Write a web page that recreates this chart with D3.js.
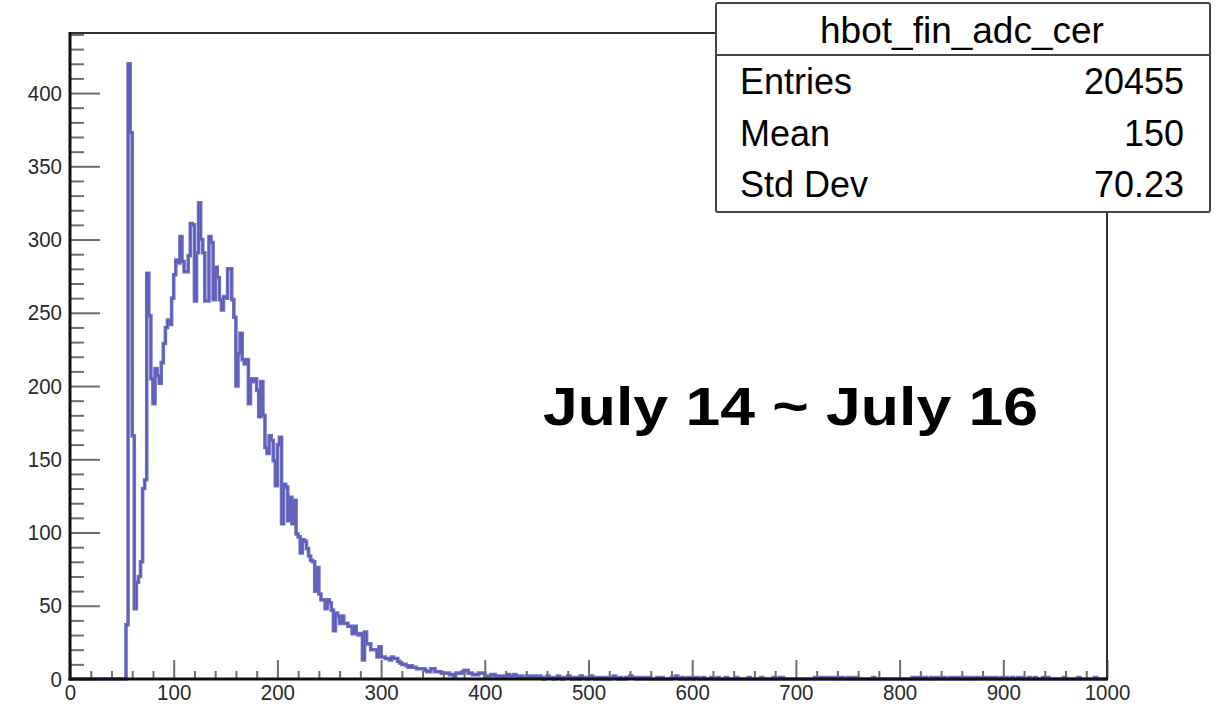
<!DOCTYPE html>
<html>
<head>
<meta charset="utf-8">
<script src="https://cdn.jsdelivr.net/npm/d3@7"></script>
<style>
body { margin: 0; background: #fff; }
text { font-family: "Liberation Sans", Arial, sans-serif; }
</style>
</head>
<body>
<svg id="chart" width="1217" height="708"></svg>
<script>
// bin contents, 2 ADC units per bin
var binWidth = 2;
var firstBin = 54;
var counts = [
	37, 420, 373, 166, 48, 66, 70, 80, 130, 136,
	277, 248, 205, 188, 212, 207, 202, 216, 229, 240,
	245, 242, 260, 276, 286, 284, 302, 285, 278, 278,
	289, 311, 310, 258, 291, 325, 300, 291, 258, 258,
	302, 298, 259, 281, 274, 259, 252, 261, 260, 280,
	280, 259, 247, 200, 222, 236, 218, 215, 218, 188,
	205, 203, 205, 197, 179, 203, 180, 158, 154, 166,
	163, 149, 132, 160, 165, 106, 133, 131, 108, 124,
	106, 122, 99, 97, 86, 95, 94, 89, 84, 81,
	80, 60, 76, 58, 54, 54, 48, 54, 52, 47,
	33, 45, 43, 38, 43, 38, 38, 36,
	36, 31, 36, 31, 30, 31, 13, 32, 24, 24,
	20, 20, 20, 15, 22, 15, 15, 14, 14, 13,
	15, 14, 14, 12, 11, 10, 10, 9, 8, 9,
	8, 8, 7, 7, 7, 7, 6, 5, 5, 7,
	7, 5, 5, 5, 4, 4, 4, 4, 3, 3,
	2, 4, 4, 4, 5, 6, 6, 4, 4, 3,
	3, 3, 4, 4, 4, 2, 2, 2, 3, 3,
	2, 2, 2, 2, 1, 2, 3, 2, 2, 3,
	2, 1, 2, 1, 1, 2, 1, 2, 1, 2
];
var tailStart = 450;
var tailCounts = [
	1,2,1,0,1,2,1,1,0,1,2,1,0,1,1,2,1,0,1,1,0,2,1,1,0,
	1,2,1,0,1,1,0,1,1,0,0,1,2,1,0,1,0,0,1,1,2,1,1,0,1,
	0,1,1,0,1,0,0,0,1,0,1,0,0,0,0,1,1,2,1,0,1,0,0,1,1,
	0,1,1,0,0,1,0,0,0,1,0,0,1,0,0,0,1,0,0,0,0,1,0,0,0,
	0,0,1,0,0,0,0,0,1,0,0,0,0,0,1,0,0,1,1,0,0,0,0,0,0,
	0,0,0,0,0,0,0,0,0,1,0,1,1,0,1,0,1,1,0,1,0,1,1,0,0,
	1,0,1,0,1,0,0,0,0,0,0,0,1,0,0,0,0,0,0,0,0,0,0,0,0,
	0,0,0,0,0,0,1,0,1,1,0,1,1,0,0,1,0,1,1,0,0,1,0,0,1,
	1,0,1,1,0,1,1,0,1,0,1,0,1,1,0,1,1,0,1,0,1,1,0,0,1,
	0,1,0,0,1,0,0,1,1,0,0,0,1,0,0,1,0,0,0,1,0,1,0,0,0,
	0,0,0,0,1,0,0,0,0,0,0,1,0,0,0,0,0,0,0,1,0,0,0,0,0
];
var xTicks = [0, 100, 200, 300, 400, 500, 600, 700, 800, 900, 1000];
var yTicks = [0, 50, 100, 150, 200, 250, 300, 350, 400];
var statsTitle = "hbot_fin_adc_cer";
var statsNames = ["Entries", "Mean", "Std Dev"];
var statsValues = ["20455", "150", "70.23"];
var note = "July 14 ~ July 16";

var svg = d3.select("#chart"),
	x = d3.scaleLinear().domain([0, 1000]).range([70, 1107]),
	y = d3.scaleLinear().domain([0, 441]).range([679, 33]);

// histogram as a step line
var pts = [[0, 0]];
counts.forEach(function(c, i) { pts.push([firstBin + i * binWidth, c]); });
tailCounts.forEach(function(c, i) { pts.push([tailStart + i * binWidth, c]); });
pts.push([1000, tailCounts[tailCounts.length - 1]]);

var step = d3.line()
	.x(function(d) { return x(d[0]); })
	.y(function(d) { return y(d[1]); })
	.curve(d3.curveStepAfter);

svg.append("path").datum(pts)
	.attr("d", step)
	.attr("fill", "none")
	.attr("stroke", "#7070c6")
	.attr("stroke-width", 3.6);
svg.append("path").datum(pts)
	.attr("d", step)
	.attr("fill", "none")
	.attr("stroke", "#2c2c95")
	.attr("stroke-width", 1)
	.attr("stroke-opacity", 0.4);

// axes (ticks point into the frame like ROOT)
function styleAxis(g) {
	g.attr("font-size", null).attr("font-family", null);
	g.select(".domain").remove();
	g.selectAll("line").attr("stroke", "#6e6e6e").attr("stroke-width", 2);
	// the labels in the picture are a narrow helvetica, squeeze a bit
	g.selectAll("text").attr("fill", "#2a2a2a")
		.attr("font-size", 22.5).attr("font-family", "'Liberation Sans', Arial, sans-serif")
		.attr("lengthAdjust", "spacingAndGlyphs")
		.attr("textLength", function() { return this.textContent.length * 11.4; });
}

var yMinorVals = d3.range(0, 441, 10).filter(function(v) { return v % 50 != 0; });
var xMinorVals = d3.range(0, 1001, 20).filter(function(v) { return v % 100 != 0; });

svg.append("g").attr("transform", "translate(70,0)")
	.call(d3.axisLeft(y).tickValues(yMinorVals).tickSize(-14).tickFormat(""))
	.call(styleAxis);
svg.append("g").attr("transform", "translate(70,0)")
	.call(d3.axisLeft(y).tickValues(yTicks).tickSize(-30).tickSizeOuter(0).tickPadding(8)
		.tickFormat(d3.format("d")))
	.call(styleAxis);

svg.append("g").attr("transform", "translate(0,679)")
	.call(d3.axisBottom(x).tickValues(xMinorVals).tickSize(-8).tickFormat(""))
	.call(styleAxis);
svg.append("g").attr("transform", "translate(0,679)")
	.call(d3.axisBottom(x).tickValues(xTicks).tickSize(-19).tickSizeOuter(0).tickPadding(5)
		.tickFormat(d3.format("d")))
	.call(styleAxis);

// frame
svg.append("line").attr("x1", 70).attr("x2", 1107).attr("y1", 33).attr("y2", 33)
	.attr("stroke", "#333").attr("stroke-width", 2);
svg.append("line").attr("x1", 1107).attr("x2", 1107).attr("y1", 33).attr("y2", 679)
	.attr("stroke", "#333").attr("stroke-width", 2);
svg.append("line").attr("x1", 70).attr("x2", 70).attr("y1", 32).attr("y2", 680.5)
	.attr("stroke", "#111").attr("stroke-width", 3);
svg.append("line").attr("x1", 68.5).attr("x2", 1108).attr("y1", 679).attr("y2", 679)
	.attr("stroke", "#111").attr("stroke-width", 3);

// stats box
var box = svg.append("g");
box.append("rect").attr("x", 716).attr("y", 3).attr("width", 494).attr("height", 209)
	.attr("rx", 2).attr("fill", "#fff").attr("stroke", "#444").attr("stroke-width", 2);
box.append("line").attr("x1", 716).attr("x2", 1210).attr("y1", 55).attr("y2", 55)
	.attr("stroke", "#444").attr("stroke-width", 2);
box.append("text").attr("x", 962).attr("y", 43).attr("text-anchor", "middle")
	.style("font-size", "37px").text(statsTitle);
statsNames.forEach(function(n, i) {
	var by = 94 + i * 51.5;
	box.append("text").attr("x", 740).attr("y", by).style("font-size", "36px").text(n);
	box.append("text").attr("x", 1184).attr("y", by).attr("text-anchor", "end")
		.style("font-size", "36px").text(statsValues[i]);
});

// date note
svg.append("text").attr("x", 543).attr("y", 425)
	.attr("textLength", 495).attr("lengthAdjust", "spacingAndGlyphs")
	.style("font-size", "54px").style("font-weight", "bold").attr("fill", "#000")
	.text(note);
</script>
</body>
</html>
